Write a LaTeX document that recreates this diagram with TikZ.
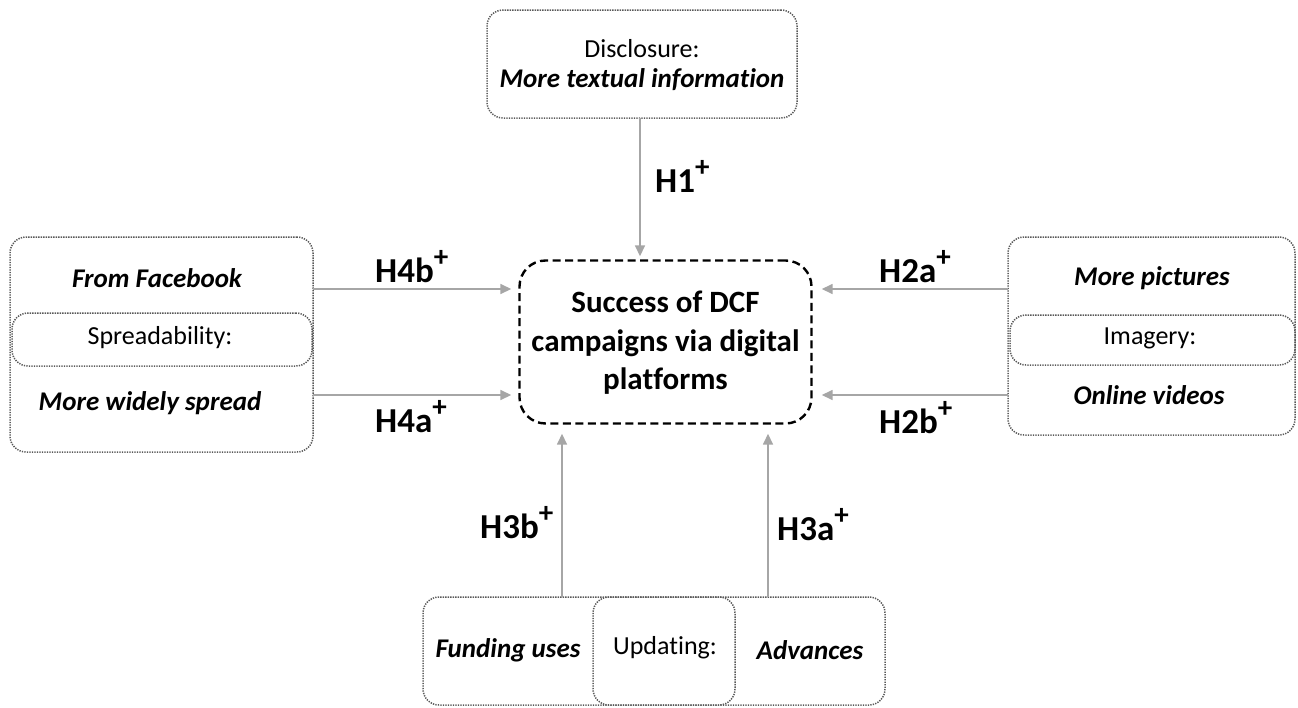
\documentclass[tikz,border=0pt]{standalone}
\usepackage{fontspec}
\setmainfont[Ligatures=NoCommon]{Carlito}
\usetikzlibrary{arrows.meta}
\newcommand{\plussup}{\raisebox{0.45em}{\fontsize{29}{29}\selectfont\bfseries+}}
\begin{document}
\begin{tikzpicture}[x=1pt,y=-1pt,
  dotbox/.style={draw=black!65, line width=1.5pt, dash pattern=on 1.3pt off 1.2pt, rounded corners=16pt, minimum width=#1, inner sep=0pt},
  ctrbox/.style={draw=black, line width=2.4pt, dash pattern=on 8pt off 4.5pt, rounded corners=26pt, inner sep=0pt},
  plain/.style={font=\fontsize{26}{30}\selectfont, inner sep=0pt},
  emph/.style={font=\fontsize{27}{31}\selectfont\bfseries\itshape, inner sep=0pt},
  hlab/.style={font=\fontsize{35}{40}\selectfont\bfseries, inner sep=0pt, anchor=base west},
  arr/.style={draw=black!35, line width=1.6pt, -{Triangle[length=11pt,width=10pt]}}
]
\useasboundingbox (0,0) rectangle (1298,707);
% top
\node[dotbox=310pt, minimum height=108pt] (top) at (642,64) {};
\node[plain] (disc) at (642,49) {Disclosure:};
\node[emph] (textinfo) at (642,80) {More textual information};
% center
\node[ctrbox, minimum width=292pt, minimum height=163pt] (ctr) at (665.5,342) {};
\node[align=center, font=\fontsize{31}{38.5}\selectfont\bfseries, inner sep=0pt] (ctrtxt) at (665.5,343) {Success of DCF\\campaigns via digital\\platforms};
% left
\node[dotbox=303pt, minimum height=215pt] (left) at (161.5,344.5) {};
\node[dotbox=300pt, minimum height=53pt] (spread) at (162,339.5) {};
\node[emph] (fb) at (157,278) {From Facebook};
\node[plain] (spt) at (160,338) {Spreadability:};
\node[emph] (wide) at (150,403) {More widely spread};
% right
\node[dotbox=287pt, minimum height=198pt] (right) at (1151.5,336) {};
\node[dotbox=285pt, minimum height=50pt] (imag) at (1152.5,340) {};
\node[emph] (pics) at (1152,278) {More pictures};
\node[plain] (imt) at (1150,338) {Imagery:};
\node[emph] (vid) at (1149,395) {Online videos};
% bottom
\node[dotbox=462pt, minimum height=108pt] (bot) at (654,651) {};
\node[dotbox=142pt, minimum height=108pt] (upd) at (664,651) {};
\node[emph] (fund) at (508,650) {Funding uses};
\node[plain] (updt) at (665,648) {Updating:};
\node[emph] (adv) at (810,650) {Advances};
% connectors
\coordinate (l1) at (313,289);
\coordinate (l2) at (313,395);
\coordinate (r1) at (1008,289);
\coordinate (r2) at (1008,395);
\coordinate (b1) at (562,597);
\coordinate (b2) at (768,597);
\draw[arr, shorten >=7pt] (l1) -- (l1 -| ctr.west);
\draw[arr, shorten >=7pt] (l2) -- (l2 -| ctr.west);
\draw[arr, shorten >=9pt] (r1) -- (r1 -| ctr.east);
\draw[arr, shorten >=9pt] (r2) -- (r2 -| ctr.east);
\draw[arr, shorten >=9pt] (b1) -- (b1 |- ctr.south);
\draw[arr, shorten >=9pt] (b2) -- (b2 |- ctr.south);
\coordinate (t1) at (640,118);
\draw[arr, shorten >=3pt] (t1) -- (t1 |- ctr.north);
% labels
\node[hlab] (h1) at (655,192) {H1\plussup};
\node[hlab] (h4b) at (375,282) {H4b\plussup};
\node[hlab] (h4a) at (375,432) {H4a\plussup};
\node[hlab] (h2a) at (879,282) {H2a\plussup};
\node[hlab] (h2b) at (879,433) {H2b\plussup};
\node[hlab] (h3b) at (480,538) {H3b\plussup};
\node[hlab] (h3a) at (777,540) {H3a\plussup};
\end{tikzpicture}
\end{document}
